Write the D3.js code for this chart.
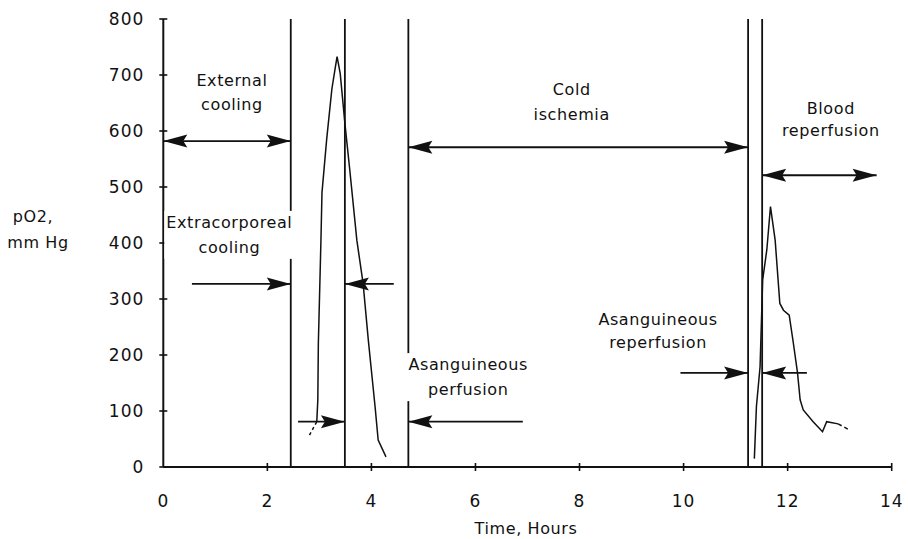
<!DOCTYPE html>
<html>
<head>
<meta charset="utf-8">
<script src="https://cdn.jsdelivr.net/npm/d3@7"></script>
<style>
  body { margin: 0; background: #fff; }
  text { font-family: "DejaVu Sans", sans-serif; fill: #111; }
</style>
</head>
<body>
<svg id="chart" width="908" height="539"></svg>
<script>
// --- Data ---
const xTicks = [0, 2, 4, 6, 8, 10, 12, 14];
const yTicks = [0, 100, 200, 300, 400, 500, 600, 700, 800];

// phase boundaries (hours)
const phaseLines = [2.45, 3.49, 4.71, 11.24, 11.51];

// first pO2 peak (asanguineous perfusion)
const peak1Dashed = [[2.81, 57], [2.95, 81]];
const peak1 = [
  [2.95, 81], [2.97, 120], [2.98, 220], [3.03, 405], [3.05, 490], [3.14, 585],
  [3.24, 675], [3.30, 710], [3.34, 733], [3.40, 703], [3.49, 614], [3.59, 525],
  [3.72, 405], [3.84, 328], [3.94, 227], [4.07, 108], [4.13, 48], [4.28, 18]
];

// second pO2 peak (reperfusion)
const peak2 = [
  [11.36, 15], [11.40, 108], [11.47, 179], [11.52, 334], [11.60, 388], [11.67, 465],
  [11.76, 405], [11.85, 292], [11.92, 280], [12.03, 271], [12.11, 221], [12.19, 168],
  [12.24, 120], [12.30, 102], [12.49, 81], [12.67, 63], [12.75, 81], [12.97, 77]
];
const peak2Dashed = [[12.97, 77], [13.17, 67]];

// arrows: [fromX, toX, y, heads] heads: "end" = head at toX, "both" = both ends
const arrows = [
  [0, 2.45, 582, "both"],      // external cooling
  [4.71, 11.24, 571, "both"],  // cold ischemia
  [11.51, 13.71, 521, "both"], // blood reperfusion
  [0.55, 2.45, 327, "end"],    // extracorporeal cooling
  [4.43, 3.49, 327, "end"],
  [2.59, 3.49, 81, "end"],     // asanguineous perfusion
  [6.91, 4.71, 81, "end"],
  [9.94, 11.24, 168, "end"],   // asanguineous reperfusion
  [12.37, 11.51, 168, "end"]
];

// labels: [lines, x (hours), y (pO2 of first baseline), lineGap px, background]
const labels = [
  [["External", "cooling"], 1.32, 681, 24, false],
  [["Cold", "ischemia"], 7.85, 665, 25, false],
  [["Blood", "reperfusion"], 12.83, 630, 22, false],
  [["Extracorporeal", "cooling"], 1.27, 427, 25, true],
  [["Asanguineous", "perfusion"], 5.86, 173, 25, true],
  [["Asanguineous", "reperfusion"], 9.51, 253, 23, false]
];

// --- Setup ---
const svg = d3.select("#chart");
const x = d3.scaleLinear().domain([0, 14]).range([163.3, 891.7]);
const y = d3.scaleLinear().domain([0, 800]).range([467, 19]);
const g = svg.append("g");

// phase lines
g.selectAll("line.phase")
  .data(phaseLines)
  .join("line")
  .attr("class", "phase")
  .attr("x1", d => x(d)).attr("x2", d => x(d))
  .attr("y1", y(800)).attr("y2", y(0))
  .attr("stroke", "#111").attr("stroke-width", 1.8);

// axes
g.append("line")
  .attr("x1", x(0)).attr("x2", x(0)).attr("y1", y(800)).attr("y2", y(0))
  .attr("stroke", "#111").attr("stroke-width", 2);
g.append("line")
  .attr("x1", x(0)).attr("x2", x(14)).attr("y1", y(0)).attr("y2", y(0))
  .attr("stroke", "#111").attr("stroke-width", 2);

g.selectAll("line.ytick")
  .data(yTicks)
  .join("line")
  .attr("class", "ytick")
  .attr("x1", x(0) - 4).attr("x2", x(0) + 4)
  .attr("y1", d => y(d)).attr("y2", d => y(d))
  .attr("stroke", "#111").attr("stroke-width", 1.6);
g.selectAll("line.xtick")
  .data(xTicks.slice(1))
  .join("line")
  .attr("class", "xtick")
  .attr("x1", d => x(d)).attr("x2", d => x(d))
  .attr("y1", y(0) - 4).attr("y2", y(0) + 4)
  .attr("stroke", "#111").attr("stroke-width", 1.6);

g.selectAll("text.ylab")
  .data(yTicks)
  .join("text")
  .attr("class", "ylab")
  .attr("x", x(0) - 19)
  .attr("y", d => y(d) + 6)
  .attr("text-anchor", "end")
  .style("font-size", "17px")
  .style("letter-spacing", "1px")
  .text(d => d);
g.selectAll("text.xlab")
  .data(xTicks)
  .join("text")
  .attr("class", "xlab")
  .attr("x", d => x(d))
  .attr("y", 507)
  .attr("text-anchor", "middle")
  .style("font-size", "17px")
  .style("letter-spacing", "1px")
  .text(d => d);

svg.append("text")
  .attr("x", 526).attr("y", 534)
  .attr("text-anchor", "middle")
  .style("font-size", "16px")
  .style("letter-spacing", "0.6px")
  .text("Time, Hours");
const yTitle = svg.append("text")
  .attr("x", 36).attr("y", 222)
  .attr("text-anchor", "middle")
  .style("font-size", "16px")
  .style("letter-spacing", "0.6px");
yTitle.append("tspan").attr("x", 33).text("pO2,");
yTitle.append("tspan").attr("x", 38).attr("dy", 26).text("mm Hg");

// curves
const line = d3.line().x(d => x(d[0])).y(d => y(d[1]));
[[peak1, null], [peak1Dashed, "3,3"], [peak2, null], [peak2Dashed, "4,3"]].forEach(([data, dash]) => {
  g.append("path")
    .datum(data)
    .attr("d", line)
    .attr("fill", "none")
    .attr("stroke", "#111")
    .attr("stroke-width", 1.5)
    .attr("stroke-dasharray", dash);
});

// arrows
const headLen = 24, headHalf = 6.5;
function head(tipX, tipY, dir) {
  // dir = +1 pointing right, -1 pointing left
  const bx = tipX - dir * headLen;
  return `M${tipX},${tipY}L${bx},${tipY - headHalf}L${bx + dir * 4},${tipY}L${bx},${tipY + headHalf}Z`;
}
arrows.forEach(([x0, x1, v, heads]) => {
  const px0 = x(x0), px1 = x(x1), py = y(v);
  const dir = px1 > px0 ? 1 : -1;
  g.append("line")
    .attr("x1", px0).attr("x2", px1).attr("y1", py).attr("y2", py)
    .attr("stroke", "#111").attr("stroke-width", 1.8);
  g.append("path").attr("d", head(px1, py, dir)).attr("fill", "#111");
  if (heads === "both") g.append("path").attr("d", head(px0, py, -dir)).attr("fill", "#111");
});

// labels
labels.forEach(([lines, lx, ly, gap, bg]) => {
  const t = svg.append("text")
    .attr("text-anchor", "middle")
    .style("font-size", "16px")
    .style("letter-spacing", "0.6px");
  lines.forEach((s, i) => {
    t.append("tspan").attr("x", x(lx)).attr("y", y(ly) + i * gap).text(s);
  });
  if (bg) {
    const b = t.node().getBBox();
    svg.insert("rect", () => t.node())
      .attr("x", b.x - 2).attr("y", b.y - 2)
      .attr("width", b.width + 4).attr("height", b.height + 4)
      .attr("fill", "#fff");
  }
});
</script>
</body>
</html>
